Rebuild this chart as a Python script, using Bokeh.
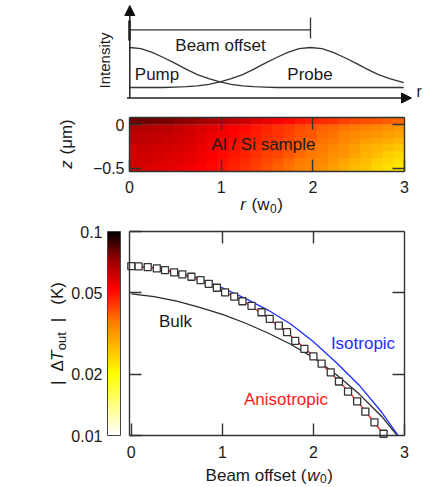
import math
import numpy as np
from bokeh.plotting import figure
from bokeh.layouts import column
from bokeh.models import (Label, Arrow, NormalHead, LinearAxis, LogAxis, FixedTicker,
                          LogColorMapper, ColorBar, Range1d)
from bokeh.embed import file_html
from bokeh.resources import INLINE

# ---------------- data ----------------
# schematic beam profiles (r in units of w0)
schem_r = [0.0, 0.125, 0.25, 0.375, 0.5, 0.625, 0.75, 0.875, 1.0, 1.125, 1.25, 1.375, 1.5,
           1.625, 1.75, 1.875, 2.0, 2.125, 2.25, 2.375, 2.5, 2.625, 2.75, 2.875, 3.0, 3.03]
pump_I = [1.00, 0.97, 0.88, 0.75, 0.61, 0.46, 0.32, 0.22, 0.14, 0.08, 0.04, 0.02, 0.01,
          0.0, 0.0, 0.0, 0.0, 0.0, 0.0, 0.0, 0.0, 0.0, 0.0, 0.0, 0.0, 0.0]
probe_I = [0.0, 0.0, 0.0, 0.0, 0.01, 0.02, 0.04, 0.08, 0.14, 0.22, 0.32, 0.46, 0.61,
           0.75, 0.88, 0.97, 1.00, 0.97, 0.88, 0.75, 0.61, 0.46, 0.32, 0.22, 0.14, 0.12]
pump_center = 0.0
beam_offset = 2.0

# temperature map of the Al / Si sample (K)
r_extent = (0.0, 3.0)
z_al = (0.0, 0.084)          # Al film
z_si = (-0.538, 0.0)         # Si shown below the film
heat_Al = [[0.080, 0.080, 0.079, 0.078, 0.076, 0.074, 0.071, 0.068, 0.066, 0.063, 0.061,
            0.058, 0.056, 0.053, 0.051, 0.049, 0.047, 0.046, 0.045, 0.043, 0.042, 0.041,
            0.040, 0.039, 0.038]]
heat_Si = [  # rows from z = 0 (top) to z = -0.538 (bottom)
    [0.067, 0.067, 0.066, 0.065, 0.063, 0.061, 0.059, 0.057, 0.055, 0.053, 0.051, 0.049, 0.047,
     0.045, 0.044, 0.042, 0.041, 0.039, 0.038, 0.037, 0.036, 0.035, 0.034, 0.033, 0.032],
    [0.065, 0.065, 0.064, 0.063, 0.062, 0.060, 0.058, 0.056, 0.054, 0.052, 0.050, 0.048, 0.046,
     0.045, 0.043, 0.041, 0.040, 0.038, 0.037, 0.035, 0.034, 0.033, 0.032, 0.031, 0.030],
    [0.064, 0.064, 0.063, 0.062, 0.061, 0.059, 0.057, 0.055, 0.053, 0.051, 0.049, 0.047, 0.045,
     0.044, 0.042, 0.040, 0.039, 0.037, 0.036, 0.034, 0.033, 0.031, 0.030, 0.029, 0.028],
    [0.062, 0.062, 0.061, 0.060, 0.059, 0.058, 0.056, 0.054, 0.052, 0.050, 0.048, 0.046, 0.044,
     0.043, 0.041, 0.039, 0.037, 0.036, 0.034, 0.033, 0.031, 0.029, 0.028, 0.027, 0.026],
    [0.061, 0.061, 0.060, 0.059, 0.058, 0.057, 0.055, 0.053, 0.051, 0.049, 0.047, 0.045, 0.043,
     0.042, 0.040, 0.038, 0.036, 0.035, 0.033, 0.032, 0.030, 0.028, 0.027, 0.025, 0.024],
    [0.060, 0.060, 0.059, 0.058, 0.057, 0.056, 0.054, 0.052, 0.050, 0.048, 0.046, 0.044, 0.042,
     0.040, 0.038, 0.036, 0.035, 0.034, 0.032, 0.030, 0.028, 0.027, 0.025, 0.024, 0.023],
    [0.059, 0.059, 0.058, 0.057, 0.056, 0.055, 0.053, 0.051, 0.049, 0.047, 0.045, 0.043, 0.041,
     0.039, 0.037, 0.035, 0.034, 0.033, 0.031, 0.029, 0.027, 0.026, 0.024, 0.023, 0.022],
]

# |dT_out| (K) versus beam offset (w0)
meas_x = [0.00, 0.08, 0.18, 0.28, 0.37, 0.47, 0.56, 0.66, 0.76, 0.85, 0.94, 1.03, 1.13, 1.22,
          1.32, 1.43, 1.52, 1.62, 1.71, 1.80, 1.90, 2.00, 2.09, 2.19, 2.28, 2.38, 2.48, 2.57,
          2.67, 2.77]
meas_T = [0.0676, 0.0674, 0.0669, 0.0659, 0.0646, 0.0631, 0.0616, 0.0600, 0.0578, 0.0554,
          0.0530, 0.0503, 0.0480, 0.0455, 0.0432, 0.0402, 0.0373, 0.0346, 0.0321, 0.0291,
          0.0266, 0.0244, 0.0225, 0.0204, 0.0184, 0.0164, 0.0147, 0.0131, 0.0116, 0.0102]
iso_x = [0.0, 0.25, 0.5, 0.75, 1.0, 1.25, 1.5, 1.75, 2.0, 2.25, 2.5, 2.75, 2.93]
iso_T = [0.0676, 0.0664, 0.0632, 0.0588, 0.0530, 0.0470, 0.0412, 0.0352, 0.0288, 0.0228,
         0.0177, 0.0130, 0.0100]
aniso_x = [0.0, 0.25, 0.5, 0.75, 1.0, 1.25, 1.5, 1.75, 2.0, 2.25, 2.5, 2.75, 2.78]
aniso_T = [0.0676, 0.0662, 0.0626, 0.0578, 0.0512, 0.0450, 0.0378, 0.0308, 0.0245, 0.0191,
           0.0144, 0.0104, 0.0100]
bulk_x = [0.0, 0.25, 0.5, 0.75, 1.0, 1.25, 1.5, 1.75, 2.0, 2.25, 2.5, 2.75, 2.92]
bulk_T = [0.0495, 0.0480, 0.0456, 0.0425, 0.0392, 0.0356, 0.0318, 0.0280, 0.0241, 0.0199,
          0.0160, 0.0124, 0.0100]

y_lim = (0.01, 0.1)
x_lim = (-0.02, 3.0)
y_ticks = [0.01, 0.02, 0.05, 0.1]
y_tick_labels = ["0.01", "0.02", "0.05", "0.1"]
x_ticks = [0, 1, 2, 3]
z_ticks = [-0.5, 0]
z_tick_labels = ["\u22120.5", "0"]

# ---------------- styling helpers ----------------
FONT = "Liberation Sans"
INK = "#333333"
TXT = "#1a1a1a"
W = 423
BL, BR = 129, 404           # plot-box left / right (page px)

ADV = {' ': 278, '(': 333, ')': 333, '|': 260, '0': 556, '.': 278, 'A': 667, 'B': 667,
       'K': 667, 'T': 611, '\u0394': 612, '\u03bc': 576, 'a': 556, 'b': 556, 'c': 500,
       'e': 556, 'f': 278, 'i': 222, 'k': 500, 'l': 222, 'm': 833, 'n': 556, 'o': 556,
       'p': 556, 'r': 333, 's': 500, 't': 278, 'u': 556, 'w': 722, 'y': 500, 'z': 500}


def tw(s, size):
    return sum(ADV.get(ch, 556) for ch in s) * size / 1000.0


class Panel:
    """Texts placed in screen px; the frame fills the whole canvas."""
    def __init__(self, p, y0, h):
        self.p, self.y0, self.h = p, y0, h

    def text(self, px, py, text, size, style="normal", color=TXT, align="left",
             baseline="alphabetic", angle=0.0):
        self.p.add_layout(Label(x=px, y=self.y0 + self.h - py, x_units="screen",
                                y_units="screen", text=text, text_font=FONT,
                                text_font_size=f"{size}px", text_font_style=style,
                                text_color=color, text_align=align, text_baseline=baseline,
                                angle=angle))

    @staticmethod
    def _split(t, s):
        body = t.lstrip(" ")
        return tw(t[:len(t) - len(body)], s), body

    def rich_h(self, pieces, cx, base):
        total = sum(g + tw(t, s) for t, s, st, sh, g in pieces)
        cur = cx - total / 2
        for t, s, st, sh, g in pieces:
            lead, body = self._split(t, s)
            cur += g + lead
            self.text(cur, base + sh, body, s, st)
            cur += tw(body, s)

    def rich_v(self, pieces, bx, cy):
        total = sum(g + tw(t, s) for t, s, st, sh, g in pieces)
        cur = cy + total / 2
        for t, s, st, sh, g in pieces:
            lead, body = self._split(t, s)
            cur -= g + lead
            self.text(bx + sh, cur, body, s, st, angle=math.pi / 2)
            cur -= tw(body, s)


def box_axis(p, cls, side, loc, bounds, ticks, labels=None, standoff=6, size=16):
    ax = cls(fixed_location=loc, bounds=bounds, ticker=FixedTicker(ticks=ticks))
    ax.axis_line_color = INK
    ax.axis_line_width = 1.4
    ax.major_tick_line_color = INK
    ax.major_tick_line_width = 1.4
    ax.major_tick_in = 12
    ax.major_tick_out = 0
    ax.minor_tick_line_color = None
    ax.major_label_text_font = FONT
    ax.major_label_text_color = TXT
    ax.major_label_text_font_size = f"{size}px"
    ax.major_label_standoff = standoff
    if labels is None:
        ax.major_label_overrides = {t: "" for t in ticks}
    else:
        ax.major_label_overrides = dict(zip(ticks, labels))
    p.add_layout(ax, side)


def bare_figure(h, xr, yr, y_log=False):
    p = figure(width=W, height=h, output_backend="svg", toolbar_location=None,
               x_range=Range1d(*xr), y_range=Range1d(*yr),
               y_axis_type="log" if y_log else "linear",
               x_axis_location=None, y_axis_location=None, min_border=0)
    p.outline_line_color = None
    p.grid.visible = False
    return p


# colour map (white -> yellow -> orange -> red -> dark red -> black)
anchors = [(0.0, (255, 255, 255)), (0.30, (255, 255, 0)), (0.55, (255, 128, 0)),
           (0.72, (255, 0, 0)), (0.88, (139, 0, 0)), (1.0, (0, 0, 0))]
palette = []
for i in range(256):
    t = i / 255
    for (t0, c0), (t1, c1) in zip(anchors, anchors[1:]):
        if t0 <= t <= t1:
            f = (t - t0) / (t1 - t0)
            c = tuple(int(round(a + (b - a) * f)) for a, b in zip(c0, c1))
            break
    palette.append('#%02x%02x%02x' % c)
mapper = LogColorMapper(palette=palette, low=y_lim[0], high=y_lim[1])

# ---------------- panel 1: schematic (page y 0..105) ----------------
P1_Y0, P1_H = 0, 105
R_PX = 90.5      # px per w0
I_BASE, I_PX = 87, 40.0


def x1(px):
    return (px - BL) / R_PX


def y1(py):
    return (I_BASE - py) / I_PX


p1 = bare_figure(P1_H, (x1(0), x1(W)), (y1(P1_Y0 + P1_H), y1(P1_Y0)))
g1 = Panel(p1, P1_Y0, P1_H)
p1.line(schem_r, pump_I, line_color=INK, line_width=1.3)
p1.line(schem_r, probe_I, line_color=INK, line_width=1.3)
head = dict(size=10, fill_color="#111", line_color="#111", line_width=1)
p1.add_layout(Arrow(end=NormalHead(**head), x_start=x1(126.5), y_start=y1(97.5),
                    x_end=x1(411), y_end=y1(97.5), line_color="#222", line_width=1.5))
p1.add_layout(Arrow(end=NormalHead(**head), x_start=x1(129.3), y_start=y1(97.5),
                    x_end=x1(129.3), y_end=y1(5), line_color="#222", line_width=1.5))
p1.add_layout(Arrow(end=None, x_start=pump_center, y_start=y1(29.3), x_end=beam_offset,
                    y_end=y1(29.3), line_color=INK, line_width=1.3))
p1.add_layout(Arrow(end=None, x_start=beam_offset, y_start=y1(17), x_end=beam_offset,
                    y_end=y1(38), line_color=INK, line_width=1.3))
p1.add_layout(Arrow(end=None, x_start=pump_center, y_start=y1(20), x_end=pump_center,
                    y_end=y1(40), line_color="#222", line_width=2.6))
g1.text(220, 44.5, "Beam offset", 17, align="center", baseline="middle")
g1.text(156.5, 74, "Pump", 17, align="center", baseline="middle")
g1.text(309.5, 74, "Probe", 17, align="center", baseline="middle")
g1.text(104, 60, "Intensity", 15, align="center", baseline="middle", angle=math.pi / 2)
g1.text(416, 91, "r", 16, align="left", baseline="middle")

# ---------------- panel 2: heat map (page y 105..215) ----------------
P2_Y0, P2_H = 105, 110
B2_T, B2_B = 117, 171
Z_TOP, Z_BOT = z_al[1], z_si[0]
zpp = (Z_TOP - Z_BOT) / (B2_B - B2_T)
rpp = (r_extent[1] - r_extent[0]) / (BR - BL)
xr2 = (r_extent[0] - BL * rpp, r_extent[1] + (W - BR) * rpp)
yr2 = (Z_BOT - (P2_Y0 + P2_H - B2_B) * zpp, Z_TOP + (B2_T - P2_Y0) * zpp)
p2 = bare_figure(P2_H, xr2, yr2)
g2 = Panel(p2, P2_Y0, P2_H)
p2.image(image=[np.array(heat_Si, dtype=float)[::-1]], x=r_extent[0], y=z_si[0],
         dw=r_extent[1] - r_extent[0], dh=z_si[1] - z_si[0], color_mapper=mapper)
p2.image(image=[np.array(heat_Al, dtype=float)], x=r_extent[0], y=z_al[0],
         dw=r_extent[1] - r_extent[0], dh=z_al[1] - z_al[0], color_mapper=mapper)
box_axis(p2, LinearAxis, "below", Z_BOT, r_extent, x_ticks, [str(t) for t in x_ticks],
         standoff=9)
box_axis(p2, LinearAxis, "above", Z_TOP, r_extent, [1, 2])
box_axis(p2, LinearAxis, "left", r_extent[0], (Z_BOT, Z_TOP), z_ticks, z_tick_labels,
         standoff=5)
box_axis(p2, LinearAxis, "right", r_extent[1], (Z_BOT, Z_TOP), z_ticks)
g2.text(263, 143.5, "Al / Si sample", 17, align="center", baseline="middle")
g2.rich_h([("r", 17, "italic", 0, 0), (" (w", 17, "normal", 0, 1),
           ("0", 12, "normal", 3.5, 0.5), (")", 17, "normal", 0, 0.5)], 261, 204)
g2.rich_v([("z", 17, "italic", 0, 0), (" (\u03bcm)", 17, "normal", 0, 1)], 66, 143.5)

# ---------------- panel 3: temperature vs beam offset (page y 215..487) ----------------
P3_Y0, P3_H = 215, 272
B3_T, B3_B = 231, 435
xpp = (x_lim[1] - x_lim[0]) / (BR - BL)
dpp = (math.log10(y_lim[1]) - math.log10(y_lim[0])) / (B3_B - B3_T)
xr3 = (x_lim[0] - BL * xpp, x_lim[1] + (W - BR) * xpp)
yr3 = (y_lim[0] / 10 ** ((P3_Y0 + P3_H - B3_B) * dpp), y_lim[1] * 10 ** ((B3_T - P3_Y0) * dpp))
p3 = bare_figure(P3_H, xr3, yr3, y_log=True)
g3 = Panel(p3, P3_Y0, P3_H)
p3.line(bulk_x, bulk_T, line_color="#2a2a2a", line_width=1.3)
p3.line(iso_x, iso_T, line_color="#1f2dff", line_width=1.3)
p3.line(aniso_x, aniso_T, line_color="#ff1a1a", line_width=1.3)
p3.scatter(meas_x, meas_T, marker="square", size=7, fill_color="white",
           line_color="#333333", line_width=1.3)
box_axis(p3, LinearAxis, "below", y_lim[0], x_lim, x_ticks, [str(t) for t in x_ticks],
         standoff=10)
box_axis(p3, LinearAxis, "above", y_lim[1], x_lim, [1, 2])
box_axis(p3, LogAxis, "left", x_lim[0], y_lim, y_ticks, y_tick_labels, standoff=27)
box_axis(p3, LogAxis, "right", x_lim[1], y_lim, [0.02, 0.05])

cb = ColorBar(color_mapper=mapper, location=(107, P3_Y0 + P3_H - B3_B),
              orientation="vertical", width=13, height=B3_B - B3_T, padding=0, margin=0,
              label_standoff=0, ticker=FixedTicker(ticks=[0.02]),
              major_label_overrides={0.02: ""}, major_label_text_font_size="10px",
              major_tick_line_color=None, minor_tick_line_color=None,
              bar_line_color="#444444", bar_line_width=1,
              border_line_color=None, background_fill_color=None)
p3.add_layout(cb)

g3.text(175, 321, "Bulk", 17, align="center", baseline="middle")
g3.text(362.5, 342.5, "Isotropic", 17, color="#1f2dff", align="center", baseline="middle")
g3.text(285.5, 399, "Anisotropic", 17, color="#ff1a1a", align="center", baseline="middle")
g3.rich_h([("Beam offset (", 17, "normal", 0, 0), ("w", 17, "italic", 0, 0.5),
           ("0", 12, "normal", 3, 0.5), (")", 17, "normal", 0, 0.5)], 268.7, 475)
g3.rich_v([("|", 17, "normal", 0, 0), ("\u0394", 17, "normal", 0, 9),
           ("T", 17, "italic", 0, 0), ("out", 13, "normal", 4, 0.5),
           ("|", 17, "normal", 0, 10), ("(K)", 17, "normal", 0, 13)], 57, 333)

layout = column(p1, p2, p3)
open("out.html", "w").write(file_html(layout, INLINE))
